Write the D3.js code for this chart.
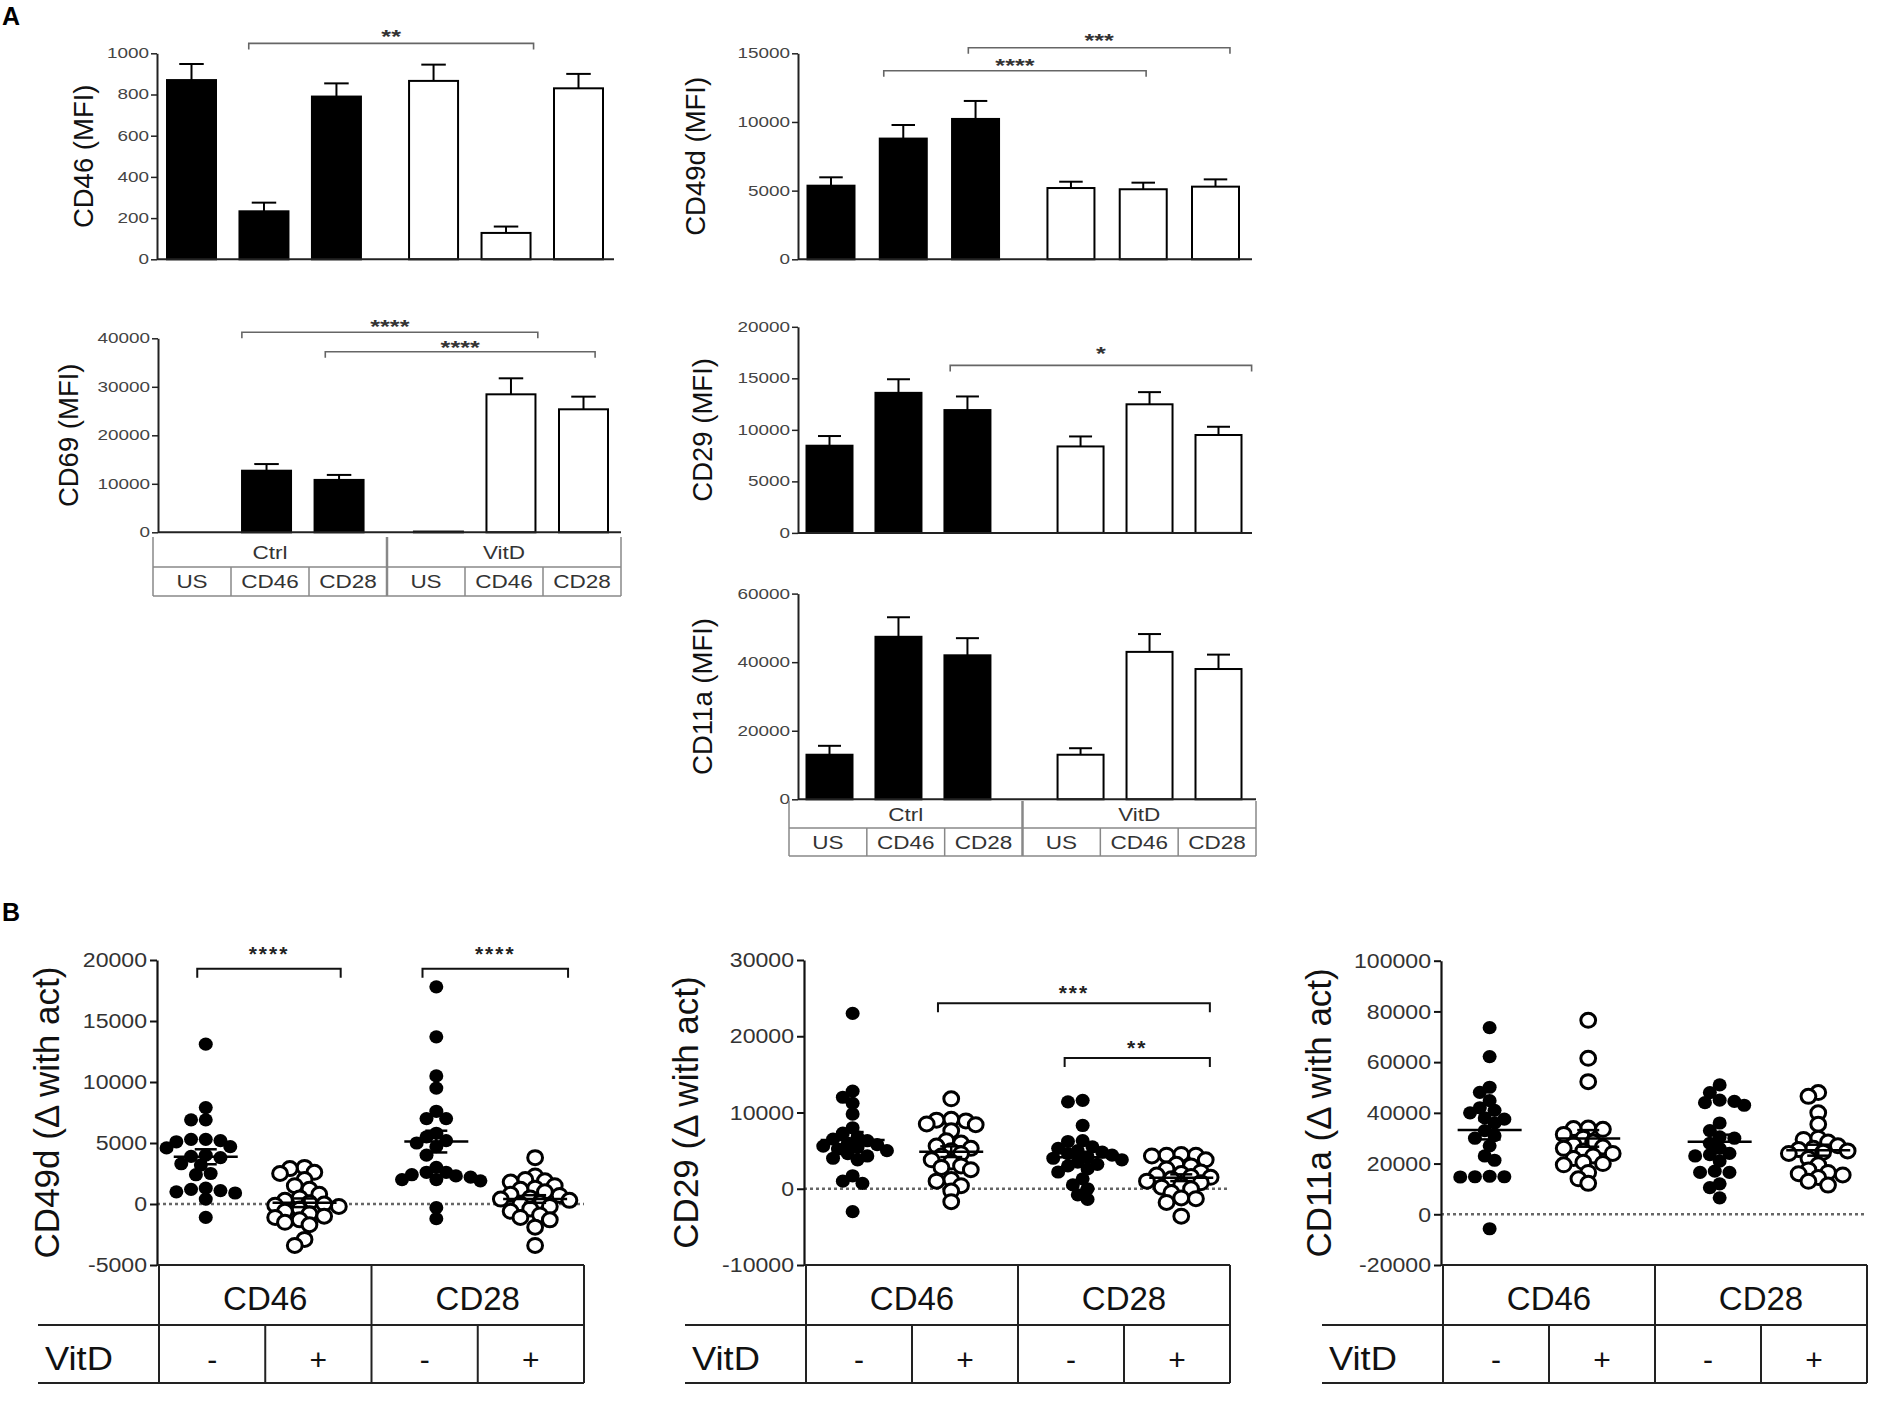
<!DOCTYPE html>
<html>
<head>
<meta charset="utf-8">
<script src="https://cdn.jsdelivr.net/npm/d3@7"></script>
<style>
body { margin: 0; background: #fff; }
svg { display: block; font-family: "Liberation Sans", Arial, sans-serif; }
</style>
</head>
<body>
<div id="chart"></div>
<script>
let w = 1890
let h = 1403

// ---- panel A data (mean and SEM, order: Ctrl US/CD46/CD28, VitD US/CD46/CD28)
let groups = ["Ctrl", "VitD"]
let stims = ["US", "CD46", "CD28"]

let cd46Mean = [870, 233, 790, 866, 128, 830]
let cd46Sem = [78, 42, 64, 79, 31, 70]
let cd49dMean = [5360, 8790, 10220, 5190, 5100, 5290]
let cd49dSem = [610, 990, 1310, 460, 480, 530]
let cd69Mean = [0, 12700, 10800, 150, 28450, 25360]
let cd69Sem = [0, 1370, 1030, 0, 3300, 2610]
let cd29Mean = [8460, 13590, 11920, 8390, 12480, 9500]
let cd29Sem = [940, 1320, 1320, 970, 1180, 800]
let cd11aMean = [13000, 47400, 42000, 13000, 43000, 38000]
let cd11aSem = [2600, 5700, 5000, 1900, 5200, 4200]

// significance brackets: from/to in bar slots, heights in data units
let cd46Sig = [{ from: 0.79, to: 4.72, at: 1048, starAt: 1098, text: "**" }]
let cd49dSig = [
	{ from: 0.73, to: 4.36, at: 13733, starAt: 14388, text: "****" },
	{ from: 1.90, to: 5.52, at: 15408, starAt: 16165, text: "***" }
]
let cd69Sig = [
	{ from: 0.66, to: 4.74, at: 41237, starAt: 43216, text: "****" },
	{ from: 1.81, to: 5.53, at: 37237, starAt: 38763, text: "****" }
]
let cd29Sig = [{ from: 1.75, to: 6.12, at: 16254, starAt: 17749, text: "*" }]

// ---- panel B data (order: CD46 VitD-, CD46 VitD+, CD28 VitD-, CD28 VitD+)
let bStims = ["CD46", "CD28"]
let vitdSigns = ["-", "+"]

let cd49dDelta = [
	[13100, 7900, 6900, 6900, 5300, 5200, 5300, 5100, 4700, 4600, 4000, 3900, 3800, 3300, 3200, 2500, 2400, 1300, 1200, 1100, 1000, 900, 400, -1100],
	[3000, 2900, 2600, 2500, 2000, 1500, 1200, 800, 500, 300, 100, 0, -100, -200, -400, -600, -800, -1000, -1100, -1300, -1500, -1700, -2900, -3400],
	[17800, 13700, 10500, 9500, 7600, 7000, 7000, 5800, 5500, 5200, 5000, 4700, 4000, 3000, 2600, 2600, 2400, 2300, 2200, 2000, 2000, 1900, -300, -1200],
	[3800, 2300, 2000, 1900, 1800, 1500, 1300, 1200, 1000, 800, 700, 500, 400, 300, 100, 0, -200, -400, -600, -900, -1100, -1300, -1900, -3400]
]
let cd29Delta = [
	[23000, 12800, 12000, 11200, 9800, 8000, 7300, 6800, 6500, 6300, 6000, 5800, 5600, 5400, 5200, 5000, 4600, 4300, 4000, 3800, 1700, 1000, 700, -3000],
	[11800, 9100, 9000, 8900, 8500, 8400, 7600, 6300, 6000, 5600, 5300, 5000, 4600, 4300, 3800, 3500, 3000, 2800, 2500, 1200, 1000, 400, -300, -1700],
	[11600, 11400, 8300, 6300, 6200, 5500, 5300, 5000, 4800, 4600, 4400, 4200, 4000, 3800, 3500, 3200, 3000, 2600, 2200, 1300, 500, 0, -800, -1400],
	[4500, 4400, 4400, 4300, 3800, 3200, 3000, 2600, 2200, 2000, 1800, 1600, 1500, 1300, 1000, 800, 500, 200, 0, -500, -1200, -1300, -1800, -3600]
]
let cd11aDelta = [
	[73600, 62200, 50100, 48100, 44800, 42000, 41000, 40000, 38000, 37500, 36000, 33000, 31000, 30000, 27000, 23000, 21300, 15000, 14800, 14800, 14700, -5700],
	[76500, 61500, 52300, 34000, 33800, 33500, 31500, 30000, 28500, 27500, 26500, 26000, 25000, 24000, 23000, 22000, 20500, 20000, 19500, 16500, 14000, 12200],
	[51000, 48000, 45000, 44500, 44000, 43000, 36000, 33000, 30500, 30000, 28000, 26000, 24000, 23500, 23000, 21000, 17000, 16500, 16500, 12000, 10500, 6500],
	[48000, 46500, 40000, 35500, 30000, 29500, 28500, 27000, 26000, 25500, 25000, 24500, 24000, 22000, 19500, 17500, 16500, 16000, 15500, 14500, 13000, 11500]
]

let cd49dDeltaSig = [
	{ from: 0.36, to: 1.71, at: 19287, starAt: 20926, text: "****" },
	{ from: 2.48, to: 3.85, at: 19287, starAt: 20926, text: "****" }
]
let cd29DeltaSig = [
	{ from: 1.245, to: 3.81, at: 24321, starAt: 26289, text: "***" },
	{ from: 2.44, to: 3.81, at: 17148, starAt: 19115, text: "**" }
]

let svg = d3.select("#chart")
	.append("svg")
	.attr("width", w)
	.attr("height", h)

// plain tick numbers, hyphen for negatives like the original
let plain = d => String(d)

// text helper, sx stretches glyphs horizontally like the original figure
let label = (g, x, y, str, o) => {
	let t = g.append("g")
		.attr("transform", `translate(${x},${y}) scale(${o.sx || 1},1)` + (o.rot ? ` rotate(${o.rot})` : ""))
		.append("text")
		.attr("font-size", o.size)
		.attr("text-anchor", o.anchor || "middle")
		.attr("fill", o.fill || "#111")
		.text(str)
	if (o.weight) t.attr("font-weight", o.weight)
	if (o.baseline) t.attr("dominant-baseline", o.baseline)
	if (o.spacing) t.attr("letter-spacing", o.spacing)
	return t
}

label(svg, 2, 25, "A", { size: 25, anchor: "start", weight: "bold", fill: "#000" })
label(svg, 2, 921, "B", { size: 25, anchor: "start", weight: "bold", fill: "#000" })

// ---- panel A: bar charts
let barChart = (cfg, means, sems, sig) => {
	let g = svg.append("g")
	let y = d3.scaleLinear().domain([0, cfg.ymax]).range([cfg.base, cfg.top])
	let x = d3.scaleLinear().domain([0, 5 + cfg.gap]).range([cfg.first, cfg.last])
	let slot = i => i + (i > 2 ? cfg.gap : 0)
	let rows = means.map((m, i) => ({ m: m, s: sems[i], i: i, vit: i > 2 }))

	g.selectAll("rect.bar")
		.data(rows)
		.join("rect")
		.attr("class", "bar")
		.attr("x", d => x(slot(d.i)) - cfg.bw / 2)
		.attr("width", cfg.bw)
		.attr("y", d => y(d.m))
		.attr("height", d => y(0) - y(d.m))
		.attr("fill", d => d.vit ? "#fff" : "#000")
		.attr("stroke", "#000")
		.attr("stroke-width", 2)

	// error bars (upper only)
	let err = rows.filter(d => d.s > 0)
	g.selectAll("line.err")
		.data(err)
		.join("line")
		.attr("class", "err")
		.attr("x1", d => x(slot(d.i)))
		.attr("x2", d => x(slot(d.i)))
		.attr("y1", d => y(d.m))
		.attr("y2", d => y(d.m + d.s))
		.attr("stroke", "#000")
		.attr("stroke-width", 2)
	g.selectAll("line.cap")
		.data(err)
		.join("line")
		.attr("class", "cap")
		.attr("x1", d => x(slot(d.i)) - cfg.bw / 4)
		.attr("x2", d => x(slot(d.i)) + cfg.bw / 4)
		.attr("y1", d => y(d.m + d.s))
		.attr("y2", d => y(d.m + d.s))
		.attr("stroke", "#000")
		.attr("stroke-width", 2)

	// y axis
	let yAxis = d3.axisLeft(y)
		.tickValues(d3.range(0, cfg.ymax + 1, cfg.step))
		.tickFormat(plain)
		.tickSize(6)
		.tickSizeOuter(0)
	let ax = g.append("g")
		.attr("transform", "translate(" + cfg.axisX + ",0)")
		.call(yAxis)
	ax.select(".domain").attr("stroke", "#222").attr("stroke-width", 2)
	ax.selectAll(".tick line").attr("stroke", "#222").attr("stroke-width", 1.5)
	ax.selectAll(".tick text")
		.attr("font-size", 14)
		.attr("font-family", "Liberation Sans, Arial, sans-serif")
		.attr("fill", "#444")
		.attr("x", -8 / 1.35)
		.attr("transform", "scale(1.35,1)")

	// x axis line
	g.append("line")
		.attr("x1", cfg.axisX)
		.attr("x2", cfg.axisEnd)
		.attr("y1", y(0))
		.attr("y2", y(0))
		.attr("stroke", "#222")
		.attr("stroke-width", 2)

	label(g, cfg.labelX, (cfg.top + cfg.base) / 2, cfg.title, { size: 27.5, rot: -90, baseline: "central", fill: "#111" })

	// brackets
	sig.forEach(s => {
		let y0 = y(s.at)
		g.append("path")
			.attr("d", `M${x(s.from)},${y0 + 6}L${x(s.from)},${y0}L${x(s.to)},${y0}L${x(s.to)},${y0 + 6}`)
			.attr("fill", "none")
			.attr("stroke", "#666")
			.attr("stroke-width", 1.6)
		label(g, (x(s.from) + x(s.to)) / 2, y(s.starAt) + 10, s.text, { size: 18, sx: 1.4, weight: "bold", fill: "#333" })
	})

	if (cfg.table) groupTable(g, cfg.table)
}

// Ctrl / VitD table under a bar chart
let groupTable = (g, t) => {
	let cell = d3.scaleLinear().domain([0, 6]).range([t.x0, t.x1])
	let [r0, r1, r2] = t.rows
	let tone = "#888"
	;[0, 3, 6].forEach(i => {
		g.append("line")
			.attr("x1", cell(i)).attr("x2", cell(i))
			.attr("y1", r0).attr("y2", r2)
			.attr("stroke", tone).attr("stroke-width", i === 3 ? 2.5 : 1.5)
	})
	;[1, 2, 4, 5].forEach(i => {
		g.append("line")
			.attr("x1", cell(i)).attr("x2", cell(i))
			.attr("y1", r1).attr("y2", r2)
			.attr("stroke", tone).attr("stroke-width", 1.5)
	})
	;[r1, r2].forEach(r => {
		g.append("line")
			.attr("x1", t.x0).attr("x2", t.x1)
			.attr("y1", r).attr("y2", r)
			.attr("stroke", tone).attr("stroke-width", 1.5)
	})
	groups.forEach((gr, gi) => {
		label(g, cell(gi * 3 + 1.5), (r0 + r1) / 2 + 6.5, gr, { size: 18, sx: 1.25, fill: "#333" })
		stims.forEach((st, si) => {
			label(g, cell(gi * 3 + si + 0.5), (r1 + r2) / 2 + 6.5, st, { size: 18, sx: 1.25, fill: "#333" })
		})
	})
}

barChart({ title: "CD46 (MFI)", axisX: 157, axisEnd: 614, top: 53.3, base: 259.3, first: 191.5, last: 578.5, gap: 0.34, bw: 49, ymax: 1000, step: 200, labelX: 83 },
	cd46Mean, cd46Sem, cd46Sig)
barChart({ title: "CD49d (MFI)", axisX: 798, axisEnd: 1252, top: 53.3, base: 259.3, first: 831, last: 1215.5, gap: 0.32, bw: 47, ymax: 15000, step: 5000, labelX: 695 },
	cd49dMean, cd49dSem, cd49dSig)
barChart({ title: "CD69 (MFI)", axisX: 158, axisEnd: 621, top: 338.3, base: 532.3, first: 194, last: 583.5, gap: 0.37, bw: 49, ymax: 40000, step: 10000, labelX: 68,
	table: { x0: 153, x1: 621, rows: [537, 567, 596] } },
	cd69Mean, cd69Sem, cd69Sig)
barChart({ title: "CD29 (MFI)", axisX: 798, axisEnd: 1252, top: 326.8, base: 532.9, first: 829.5, last: 1218.5, gap: 0.64, bw: 46, ymax: 20000, step: 5000, labelX: 702 },
	cd29Mean, cd29Sem, cd29Sig)
barChart({ title: "CD11a (MFI)", axisX: 798, axisEnd: 1256, top: 593.6, base: 799.3, first: 829.5, last: 1218.5, gap: 0.64, bw: 46, ymax: 60000, step: 20000, labelX: 702,
	table: { x0: 789, x1: 1256, rows: [801, 828, 856] } },
	cd11aMean, cd11aSem, [])

// ---- panel B: scatter dot plots
// simple beeswarm: points keep their value, only x is nudged to limit overlap
let swarm = (vals, y, cx, r) => {
	let pts = vals.map(v => ({ v: v, py: y(v) })).sort((a, b) => a.py - b.py)
	let placed = []
	let minD = r * 1.45
	pts.forEach(p => {
		let k = 0
		let off = 0
		while (k < 60) {
			off = k === 0 ? 0 : (k % 2 ? -1 : 1) * Math.ceil(k / 2) * r * 0.7
			if (placed.every(q => (q.px - (cx + off)) ** 2 + (q.py - p.py) ** 2 >= minD * minD)) break
			k++
		}
		p.px = cx + off
		placed.push(p)
	})
	return placed
}

let colPos = [0.44, 1.37, 2.61, 3.54]

let dotChart = (cfg, sets, sig) => {
	let g = svg.append("g")
	let y = d3.scaleLinear().domain(cfg.domain).range([1265, cfg.top])
	let cell = d3.scaleLinear().domain([0, 4]).range([cfg.tx0, cfg.tx1])
	let axisX = cfg.tx0 - 2

	// zero line
	g.append("line")
		.attr("x1", axisX).attr("x2", cfg.tx1)
		.attr("y1", y(0)).attr("y2", y(0))
		.attr("stroke", "#666")
		.attr("stroke-width", 2.5)
		.attr("stroke-dasharray", "3,3")

	sets.forEach((vals, i) => {
		let cx = cell(colPos[i])
		let open = i % 2 === 1
		let pts = swarm(vals, y, cx, 7)
		g.selectAll(null)
			.data(pts)
			.join("ellipse")
			.attr("cx", d => d.px)
			.attr("cy", d => d.py)
			.attr("rx", open ? 7.4 : 7)
			.attr("ry", open ? 7 : 6.6)
			.attr("fill", open ? "#fff" : "#000")
			.attr("stroke", "#000")
			.attr("stroke-width", open ? 3 : 0)

		// mean with SEM
		let m = d3.mean(vals)
		let sem = d3.deviation(vals) / Math.sqrt(vals.length)
		let lines = [
			[cx - 32, y(m), cx + 32, y(m)],
			[cx, y(m - sem), cx, y(m + sem)],
			[cx - 11, y(m - sem), cx + 11, y(m - sem)],
			[cx - 11, y(m + sem), cx + 11, y(m + sem)]
		]
		g.selectAll(null)
			.data(lines)
			.join("line")
			.attr("x1", d => d[0]).attr("y1", d => d[1])
			.attr("x2", d => d[2]).attr("y2", d => d[3])
			.attr("stroke", "#000")
			.attr("stroke-width", 2.5)
	})

	// axes
	let yAxis = d3.axisLeft(y)
		.tickValues(d3.range(cfg.domain[0], cfg.domain[1] + 1, cfg.step))
		.tickFormat(plain)
		.tickSize(7)
		.tickSizeOuter(0)
	let ax = g.append("g")
		.attr("transform", "translate(" + axisX + ",0)")
		.call(yAxis)
	ax.select(".domain").attr("stroke", "#111").attr("stroke-width", 2.2)
	ax.selectAll(".tick line").attr("stroke", "#111").attr("stroke-width", 2)
	ax.selectAll(".tick text")
		.attr("font-size", 21)
		.attr("font-family", "Liberation Sans, Arial, sans-serif")
		.attr("fill", "#333")
		.attr("x", -10 / 1.1)
		.attr("transform", "scale(1.1,1)")

	label(g, cfg.labelX, (cfg.top + 1265) / 2, cfg.title, { size: 35, rot: -90, baseline: "central", fill: "#111" })

	// table: CD46 / CD28 and VitD - / +
	let r0 = 1265, r1 = 1325, r2 = 1383
	let tl = []
	tl.push([axisX, r0, cfg.tx1, r0])
	;[0, 2, 4].forEach(i => tl.push([cell(i), r0, cell(i), r2]))
	;[1, 3].forEach(i => tl.push([cell(i), r1, cell(i), r2]))
	;[r1, r2].forEach(r => tl.push([cfg.tx0 - 121, r, cfg.tx1, r]))
	g.selectAll(null)
		.data(tl)
		.join("line")
		.attr("x1", d => d[0]).attr("y1", d => d[1])
		.attr("x2", d => d[2]).attr("y2", d => d[3])
		.attr("stroke", "#222")
		.attr("stroke-width", 2)

	bStims.forEach((s, i) => label(g, cell(i * 2 + 1), 1310, s, { size: 33, fill: "#111" }))
	label(g, cfg.tx0 - 114, 1370, "VitD", { size: 33, anchor: "start", fill: "#111", sx: 1.1 })
	d3.range(4).forEach(i => label(g, cell(i + 0.5), 1370, vitdSigns[i % 2], { size: 30, fill: "#111" }))

	// brackets
	sig.forEach(s => {
		let y0 = y(s.at)
		g.append("path")
			.attr("d", `M${cell(s.from)},${y0 + 9}L${cell(s.from)},${y0}L${cell(s.to)},${y0}L${cell(s.to)},${y0 + 9}`)
			.attr("fill", "none")
			.attr("stroke", "#111")
			.attr("stroke-width", 2)
		label(g, (cell(s.from) + cell(s.to)) / 2, y(s.starAt) + 12, s.text, { size: 21, weight: "bold", fill: "#222", spacing: 2 })
	})
}

dotChart({ title: "CD49d (\u0394 with act)", domain: [-5000, 20000], step: 5000, top: 960, tx0: 159, tx1: 584, labelX: 46 },
	cd49dDelta, cd49dDeltaSig)
dotChart({ title: "CD29 (\u0394 with act)", domain: [-10000, 30000], step: 10000, top: 960, tx0: 806, tx1: 1230, labelX: 685 },
	cd29Delta, cd29DeltaSig)
dotChart({ title: "CD11a (\u0394 with act)", domain: [-20000, 100000], step: 20000, top: 960.7, tx0: 1443, tx1: 1867, labelX: 1318 },
	cd11aDelta, [])
</script>
</body>
</html>
